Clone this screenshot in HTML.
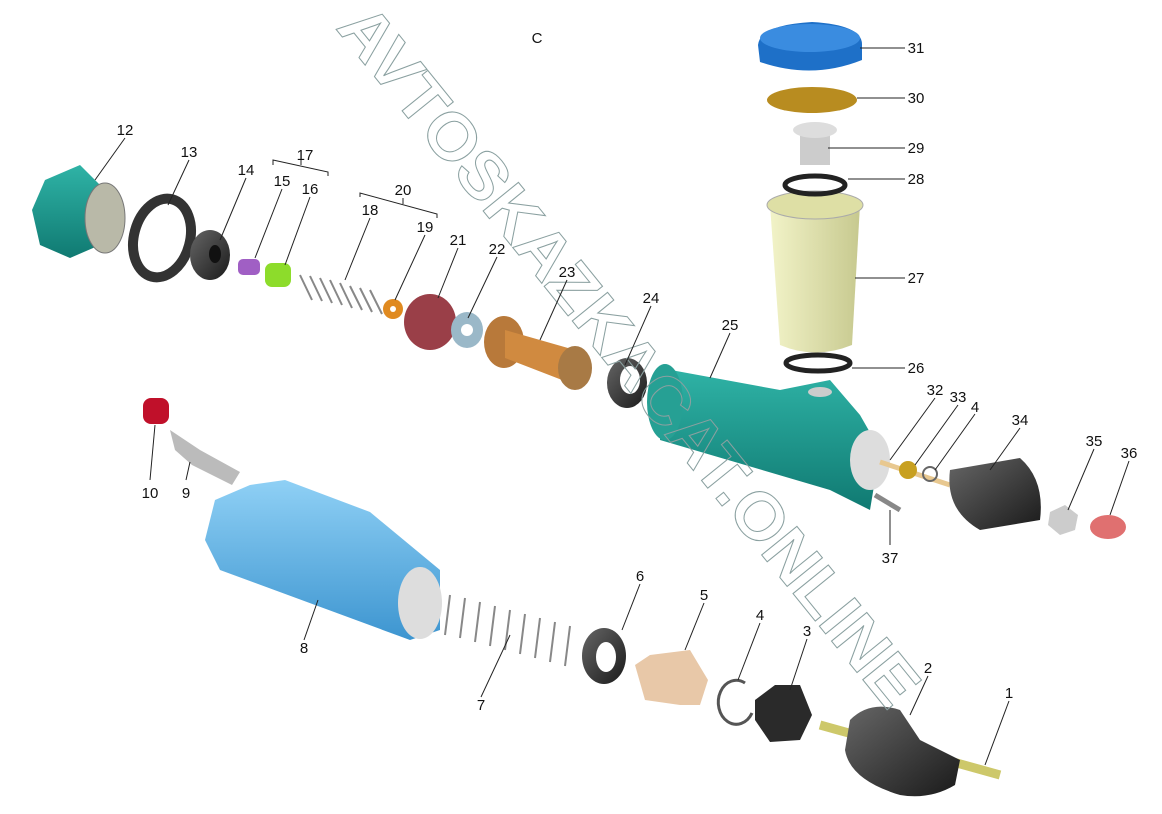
<!DOCTYPE html>
<html><head><meta charset="utf-8"><style>
body{margin:0;background:#fff}
svg{display:block}
.l{font-family:"Liberation Sans",sans-serif;font-size:15px;fill:#111;text-anchor:middle}
.ln{stroke:#222;stroke-width:1;fill:none}
</style></head><body>
<svg width="1162" height="814" viewBox="0 0 1162 814" xmlns="http://www.w3.org/2000/svg">
<defs>
<linearGradient id="teal" x1="0" y1="0" x2="0" y2="1"><stop offset="0" stop-color="#2fb3a6"/><stop offset="1" stop-color="#107a72"/></linearGradient>
<linearGradient id="blue" x1="0" y1="0" x2="0" y2="1"><stop offset="0" stop-color="#8fd0f5"/><stop offset="1" stop-color="#3d95d0"/></linearGradient>
<linearGradient id="cream" x1="0" y1="0" x2="1" y2="0"><stop offset="0" stop-color="#f2f3c8"/><stop offset="1" stop-color="#c7c98f"/></linearGradient>
<linearGradient id="dark" x1="0" y1="0" x2="1" y2="1"><stop offset="0" stop-color="#666"/><stop offset="1" stop-color="#1a1a1a"/></linearGradient>
</defs>

<!-- 12 nut -->
<polygon points="45,180 80,165 100,185 100,245 70,258 40,245 32,210" fill="url(#teal)"/>
<ellipse cx="105" cy="218" rx="20" ry="35" fill="#b9b9a8" stroke="#777"/>
<!-- 13 -->
<ellipse cx="162" cy="238" rx="28" ry="40" fill="none" stroke="#333" stroke-width="10" transform="rotate(15 162 238)"/>
<!-- 14 -->
<ellipse cx="210" cy="255" rx="20" ry="25" fill="url(#dark)"/>
<ellipse cx="215" cy="254" rx="6" ry="9" fill="#111"/>
<rect x="238" y="259" width="22" height="16" rx="5" fill="#a05fc4"/>
<rect x="265" y="263" width="26" height="24" rx="7" fill="#8ddc2b"/>
<!-- 18 spring -->
<g stroke="#888" fill="none" stroke-width="2">
<path d="M300,275 l12,25 M310,276 l12,25 M320,278 l12,25 M330,280 l12,25 M340,283 l12,25 M350,286 l12,24 M360,288 l12,24 M370,290 l12,24"/>
</g>
<circle cx="393" cy="309" r="10" fill="#e08a20"/><circle cx="393" cy="309" r="3" fill="#fff"/>
<ellipse cx="430" cy="322" rx="26" ry="28" fill="#9a3f48"/>
<ellipse cx="467" cy="330" rx="16" ry="18" fill="#9ab8c8"/><circle cx="467" cy="330" r="6" fill="#fff"/>
<!-- 23 -->
<ellipse cx="504" cy="342" rx="20" ry="26" fill="#b8793a"/>
<polygon points="505,330 575,350 575,385 505,358" fill="#d08a40"/>
<ellipse cx="575" cy="368" rx="17" ry="22" fill="#a87a45"/>
<ellipse cx="627" cy="383" rx="20" ry="25" fill="url(#dark)"/><ellipse cx="630" cy="380" rx="10" ry="14" fill="#fff"/>
<!-- 25 body -->
<polygon points="660,368 780,390 830,380 860,415 880,450 870,510 830,490 660,440" fill="url(#teal)"/>
<ellipse cx="665" cy="402" rx="18" ry="38" fill="#26a094"/>
<ellipse cx="870" cy="460" rx="20" ry="30" fill="#ddd"/>
<ellipse cx="820" cy="392" rx="12" ry="5" fill="#ccc"/>
<!-- 26-31 -->
<ellipse cx="818" cy="363" rx="32" ry="8" fill="none" stroke="#222" stroke-width="5"/>
<path d="M770,205 L860,205 L852,345 Q815,360 780,345 Z" fill="url(#cream)"/>
<ellipse cx="815" cy="205" rx="48" ry="14" fill="#dedfa5" stroke="#aaa"/>
<ellipse cx="815" cy="185" rx="30" ry="9" fill="none" stroke="#222" stroke-width="5"/>
<rect x="800" y="130" width="30" height="35" fill="#ccc"/>
<ellipse cx="815" cy="130" rx="22" ry="8" fill="#ddd"/>
<ellipse cx="812" cy="100" rx="45" ry="13" fill="#b88c20"/>
<path d="M758,45 Q760,25 812,22 Q863,25 862,45 L862,60 Q812,80 760,62 Z" fill="#1e70c8"/>
<ellipse cx="810" cy="38" rx="50" ry="14" fill="#3a8ce0"/>
<!-- 32-36 -->
<line x1="880" y1="462" x2="950" y2="485" stroke="#e8c890" stroke-width="5"/>
<circle cx="908" cy="470" r="9" fill="#c8a020"/>
<circle cx="930" cy="474" r="7" fill="none" stroke="#666" stroke-width="2"/>
<path d="M950,470 L1020,458 Q1045,480 1040,520 L980,530 Q945,510 950,470Z" fill="url(#dark)"/>
<polygon points="1050,512 1065,505 1078,515 1075,530 1060,535 1048,525" fill="#ccc"/>
<ellipse cx="1108" cy="527" rx="18" ry="12" fill="#e07070"/>
<line x1="875" y1="495" x2="900" y2="510" stroke="#888" stroke-width="5"/>
<!-- 10, 9 -->
<rect x="143" y="398" width="26" height="26" rx="8" fill="#c0102a"/>
<path d="M170,430 L200,450 L240,472 L232,485 L192,465 L175,450Z" fill="#bbb"/>
<!-- 8 -->
<path d="M215,500 L250,485 L285,480 L370,512 L440,570 L440,630 L410,640 L220,570 L205,540Z" fill="url(#blue)"/>
<ellipse cx="420" cy="603" rx="22" ry="36" fill="#ddd"/>
<!-- 7 spring -->
<g stroke="#888" fill="none" stroke-width="2">
<path d="M450,595 l-5,40 M465,598 l-5,40 M480,602 l-5,40 M495,606 l-5,40 M510,610 l-5,40 M525,614 l-5,40 M540,618 l-5,40 M555,622 l-5,40 M570,626 l-5,40"/>
</g>
<ellipse cx="604" cy="656" rx="22" ry="28" fill="url(#dark)"/><ellipse cx="606" cy="657" rx="10" ry="15" fill="#fff"/>
<path d="M635,665 L650,655 L690,650 L708,680 L700,705 L680,705 L645,700Z" fill="#e8c8a8"/>
<path d="M745,683 A18,22 0 1,0 752,713" fill="none" stroke="#555" stroke-width="3"/>
<path d="M755,700 L775,685 L800,685 L812,715 L800,740 L770,742 L755,720Z" fill="#2a2a2a"/>
<!-- 2,1 -->
<line x1="820" y1="725" x2="1000" y2="775" stroke="#cdc86a" stroke-width="9"/>
<path d="M850,720 Q870,700 900,710 L920,740 L960,760 L955,785 Q930,800 900,795 Q850,780 845,750Z" fill="url(#dark)"/>

<!-- watermark -->
<text x="0" y="0" transform="translate(335,28) rotate(51)" font-family="Liberation Sans,sans-serif" font-weight="bold" font-size="66" fill="none" stroke="#8aa0a0" stroke-width="1" textLength="880" lengthAdjust="spacingAndGlyphs">AVTOSKAZKACAT.ONLINE</text>

<!-- leader lines -->
<g class="ln">
<path d="M125,138 L95,180"/><path d="M189,160 L168,205"/><path d="M246,178 L220,240"/><path d="M282,189 L255,258"/><path d="M310,197 L285,265"/>
<path d="M273,165 L273,160 L328,172 L328,176"/><path d="M301,165 L301,160"/>
<path d="M360,197 L360,193 L437,214 L437,218"/><path d="M403,198 L403,204"/>
<path d="M370,218 L345,280"/><path d="M425,235 L395,300"/><path d="M458,248 L438,298"/><path d="M497,257 L468,318"/><path d="M567,280 L540,340"/>
<path d="M651,306 L625,365"/><path d="M730,333 L710,378"/>
<path d="M860,48 L905,48"/><path d="M857,98 L905,98"/><path d="M828,148 L905,148"/><path d="M848,179 L905,179"/><path d="M855,278 L905,278"/><path d="M852,368 L905,368"/>
<path d="M935,398 L890,460"/><path d="M958,405 L915,465"/><path d="M975,414 L935,470"/><path d="M1020,428 L990,470"/><path d="M1094,449 L1068,510"/><path d="M1129,461 L1110,515"/>
<path d="M890,545 L890,510"/>
<path d="M150,480 L155,425"/><path d="M186,480 L190,462"/>
<path d="M304,640 L318,600"/><path d="M481,697 L510,635"/><path d="M640,584 L622,630"/><path d="M704,603 L685,650"/><path d="M760,623 L738,680"/><path d="M807,639 L790,690"/>
<path d="M928,676 L910,715"/><path d="M1009,701 L985,765"/>
</g>

<!-- labels -->
<g class="l">
<text x="537" y="43">C</text>
<text x="125" y="135">12</text><text x="189" y="157">13</text><text x="246" y="175">14</text><text x="282" y="186">15</text><text x="310" y="194">16</text><text x="305" y="160">17</text>
<text x="370" y="215">18</text><text x="425" y="232">19</text><text x="403" y="195">20</text><text x="458" y="245">21</text><text x="497" y="254">22</text><text x="567" y="277">23</text>
<text x="651" y="303">24</text><text x="730" y="330">25</text>
<text x="916" y="373">26</text><text x="916" y="283">27</text><text x="916" y="184">28</text><text x="916" y="153">29</text><text x="916" y="103">30</text><text x="916" y="53">31</text>
<text x="935" y="395">32</text><text x="958" y="402">33</text><text x="975" y="412">4</text><text x="1020" y="425">34</text><text x="1094" y="446">35</text><text x="1129" y="458">36</text>
<text x="890" y="563">37</text>
<text x="150" y="498">10</text><text x="186" y="498">9</text>
<text x="304" y="653">8</text><text x="481" y="710">7</text><text x="640" y="581">6</text><text x="704" y="600">5</text><text x="760" y="620">4</text><text x="807" y="636">3</text><text x="928" y="673">2</text><text x="1009" y="698">1</text>
</g>
</svg>
</body></html>
